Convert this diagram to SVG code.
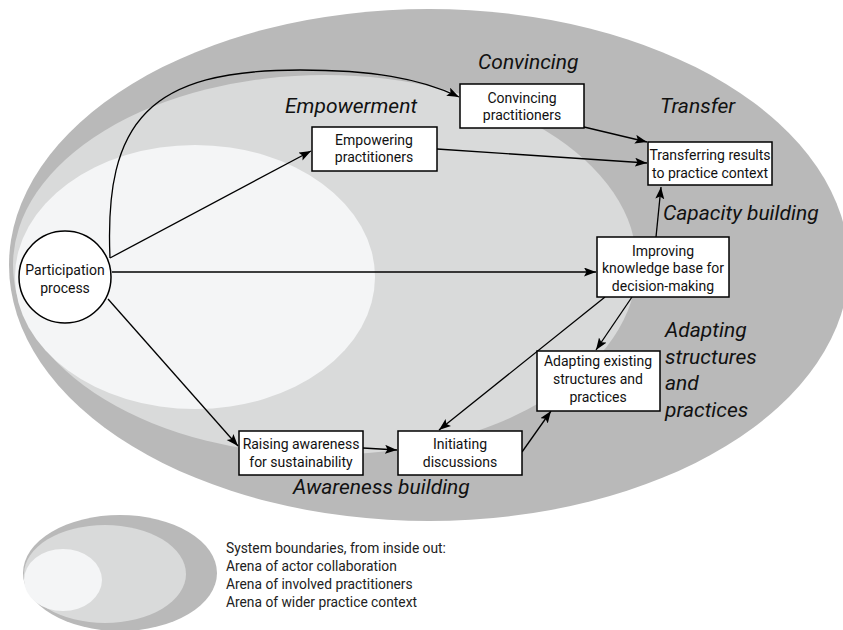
<svg xmlns="http://www.w3.org/2000/svg" width="843" height="630" viewBox="0 0 843 630">
  <defs>
    <marker id="arrow" markerUnits="userSpaceOnUse" markerWidth="13" markerHeight="10" refX="12" refY="4.5" orient="auto">
      <path d="M0,0 L12,4.5 L0,9 L2.5,4.5 z" fill="#000"/>
    </marker>
    <style>
      .wide { fill: #b9b9b9; }
      .mid { fill: #d9dada; }
      .core { fill: #f4f5f6; }
      .box { fill: #fff; stroke: #000; stroke-width: 1.5; }
      .lbl { font-family: Roboto, "Liberation Sans", sans-serif; font-size: 14px; fill: #111; text-anchor: middle; }
      .phase { font-family: Roboto, "Liberation Sans", sans-serif; font-size: 21px; font-style: italic; fill: #111; }
      .legend { font-family: Roboto, "Liberation Sans", sans-serif; font-size: 13.8px; fill: #222; }
      .conn path, .conn line { fill: none; stroke: #000; stroke-width: 1.3; marker-end: url(#arrow); }
    </style>
  </defs>

  <!-- nested system boundaries -->
  <g id="arenas">
    <ellipse class="wide" cx="429" cy="265" rx="420" ry="256"/>
    <ellipse class="mid" cx="325" cy="265" rx="312" ry="190"/>
    <ellipse class="core" cx="195" cy="277" rx="180" ry="132"/>
  </g>

  <!-- phase labels -->
  <g id="phases">
    <text class="phase" x="478" y="69">Convincing</text>
    <text class="phase" x="285" y="113">Empowerment</text>
    <text class="phase" x="660" y="113">Transfer</text>
    <text class="phase" x="663" y="220">Capacity building</text>
    <text class="phase" x="665" y="337">Adapting</text>
    <text class="phase" x="665" y="364">structures</text>
    <text class="phase" x="665" y="390">and</text>
    <text class="phase" x="665" y="417">practices</text>
    <text class="phase" x="293" y="494">Awareness building</text>
  </g>

  <!-- connectors -->
  <g id="connectors" class="conn">
    <path d="M110,258 C104,120 150,70 300,70 C370,70 420,78 459,97"/>
    <line x1="110" y1="258" x2="311" y2="151"/>
    <line x1="112" y1="272" x2="596" y2="272"/>
    <line x1="108" y1="299" x2="238" y2="446"/>
    <line x1="363" y1="448" x2="397" y2="450"/>
    <line x1="522" y1="452" x2="551" y2="411"/>
    <line x1="605" y1="297" x2="439" y2="430"/>
    <line x1="632" y1="297" x2="596" y2="350"/>
    <line x1="656" y1="237" x2="661" y2="187"/>
    <line x1="584" y1="127" x2="647" y2="142"/>
    <line x1="437" y1="149" x2="647" y2="163"/>
  </g>

  <!-- nodes -->
  <g id="participation">
    <ellipse cx="65" cy="277" rx="46" ry="46" class="box"/>
    <text class="lbl" x="65" y="275">Participation</text>
    <text class="lbl" x="65" y="293">process</text>
  </g>
  <g id="convincing">
    <rect class="box" x="460" y="84" width="124" height="44"/>
    <text class="lbl" x="522" y="103">Convincing</text>
    <text class="lbl" x="522" y="120">practitioners</text>
  </g>
  <g id="empowering">
    <rect class="box" x="312" y="127" width="125" height="44"/>
    <text class="lbl" x="374" y="145">Empowering</text>
    <text class="lbl" x="374" y="162">practitioners</text>
  </g>
  <g id="transferring">
    <rect class="box" x="648" y="142" width="124" height="43"/>
    <text class="lbl" x="710" y="160">Transferring results</text>
    <text class="lbl" x="710" y="178">to practice context</text>
  </g>
  <g id="improving">
    <rect class="box" x="597" y="237" width="132" height="60"/>
    <text class="lbl" x="663" y="256">Improving</text>
    <text class="lbl" x="663" y="273">knowledge base for</text>
    <text class="lbl" x="663" y="291">decision-making</text>
  </g>
  <g id="adapting">
    <rect class="box" x="537" y="351" width="123" height="60"/>
    <text class="lbl" x="598" y="366">Adapting existing</text>
    <text class="lbl" x="598" y="384">structures and</text>
    <text class="lbl" x="598" y="402">practices</text>
  </g>
  <g id="raising">
    <rect class="box" x="239" y="431" width="124" height="44"/>
    <text class="lbl" x="301" y="449">Raising awareness</text>
    <text class="lbl" x="301" y="467">for sustainability</text>
  </g>
  <g id="initiating">
    <rect class="box" x="398" y="431" width="124" height="44"/>
    <text class="lbl" x="460" y="449">Initiating</text>
    <text class="lbl" x="460" y="467">discussions</text>
  </g>

  <!-- legend -->
  <g id="legend">
    <ellipse class="wide" cx="120" cy="573" rx="97" ry="58"/>
    <ellipse class="mid" cx="105" cy="574" rx="81" ry="49"/>
    <ellipse class="core" cx="63" cy="580" rx="39" ry="31"/>
    <text class="legend" x="226" y="553">System boundaries, from inside out:</text>
    <text class="legend" x="226" y="571">Arena of actor collaboration</text>
    <text class="legend" x="226" y="589">Arena of involved practitioners</text>
    <text class="legend" x="226" y="607">Arena of wider practice context</text>
  </g>
</svg>
